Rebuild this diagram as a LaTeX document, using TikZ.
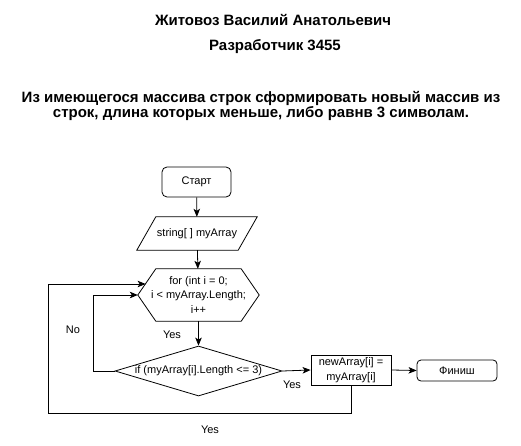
\documentclass[tikz,border=0pt]{standalone}
\usepackage{fontspec}
\setmainfont{Liberation Sans}
\usetikzlibrary{arrows.meta,shapes.geometric}
\begin{document}
\begin{tikzpicture}[x=1pt,y=-1pt,
  every node/.style={font=\fontsize{11}{14.5}\selectfont, inner sep=0pt},
  title/.style={font=\bfseries\fontsize{15}{17}\selectfont},
  term/.style={draw, line width=0.8pt, rounded corners=5pt, minimum width=69pt, minimum height=30pt},
  proc/.style={draw, line width=0.8pt, minimum width=80pt, minimum height=30pt, align=center},
  conn/.style={line width=0.8pt, -{Stealth[length=8pt,width=6.5pt,inset=2pt]}},
  line/.style={line width=0.8pt}
]
\useasboundingbox (0,0) rectangle (521,446);
\node[title] (t1) at (273,20) {Житовоз Василий Анатольевич};
\node[title] (t2) at (275,47) {Разработчик 3455};
\node[title] (t3) at (261,98) {Из имеющегося массива строк сформировать новый массив из};
\node[title] (t4) at (261,114) {строк, длина которых меньше, либо равнв 3 символам.};

\node[term] (start) at (196.5,182) {Старт};

\node[minimum width=120pt, minimum height=33pt] (inp) at (197,233.5) {string[ ] myArray};
\draw[line] ([xshift=19pt]inp.north west) -- (inp.north east) -- ([xshift=-19pt]inp.south east) -- (inp.south west) -- cycle;

\node[minimum width=121pt, minimum height=52pt, align=center] (for) at (198.5,295) {for (int i = 0;\\ i < myArray.Length;\\ i++};
\draw[line] ([xshift=18pt]for.north west) -- ([xshift=-18pt]for.north east) -- (for.east) -- ([xshift=-18pt]for.south east) -- ([xshift=18pt]for.south west) -- (for.west) -- cycle;

\node[draw, line width=0.8pt, diamond, aspect=3.34, minimum width=167pt, minimum height=50pt] (dia) at (198.5,371) {if (myArray[i].Length <= 3)};

\node[proc] (nb) at (351,370) {newArray[i] =\\myArray[i]};

\node[term, rounded corners=4pt, minimum width=80pt, minimum height=21pt] (fin) at (457,370.5) {Финиш};

\draw[conn] (start) -- (inp);
\draw[conn] (inp) -- (for);
\draw[conn] (for) -- (dia);
\draw[conn] (dia.east) -- (nb.west);
\draw[conn] (nb.east) -- (fin.west);

\coordinate (c1) at (48,413);
\coordinate (hx) at (145.6,284);
\draw[conn] (nb.south) |- (c1) |- (hx);
\draw[conn] (dia.west) -- ++(-21,0) |- (for.west);

\node (no) at (73,330) {No};
\node (y1) at (172,335) {Yes};
\node (y2) at (292,385) {Yes};
\node (y3) at (210,430) {Yes};
\end{tikzpicture}
\end{document}
